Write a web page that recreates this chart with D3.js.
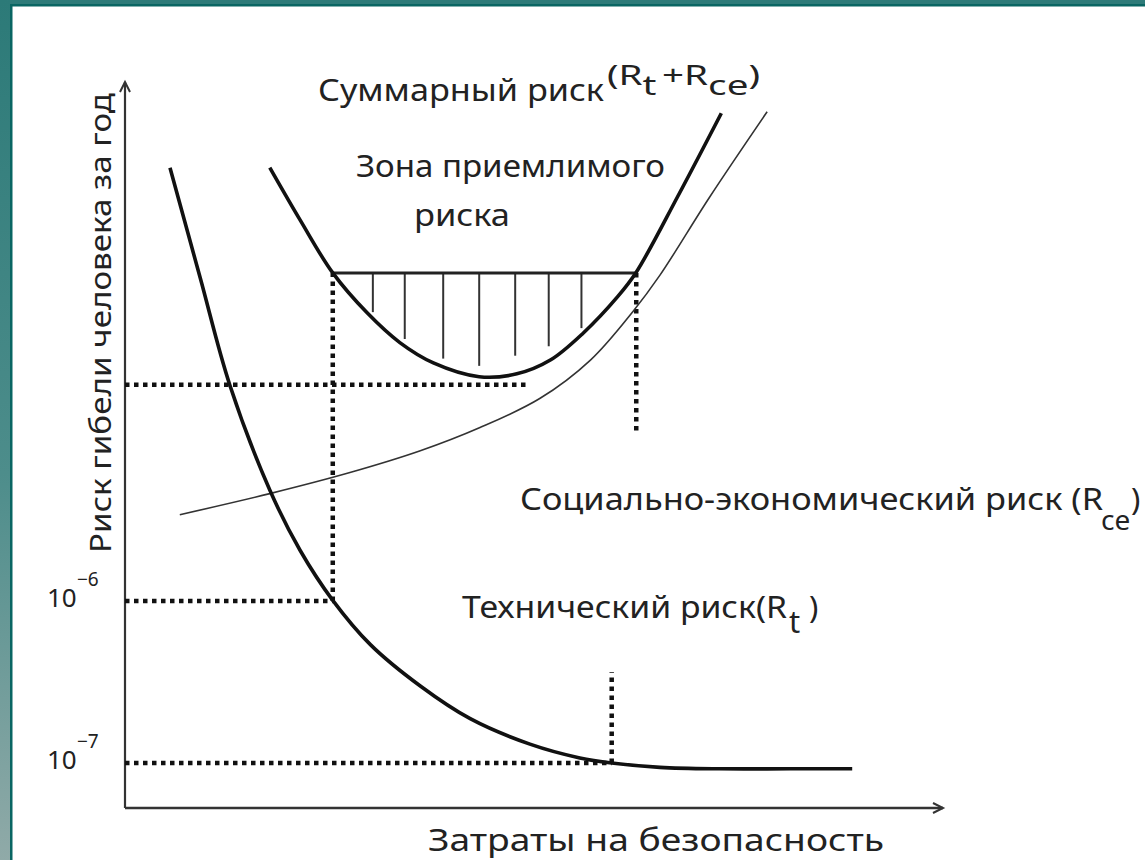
<!DOCTYPE html>
<html>
<head>
<meta charset="utf-8">
<script src="https://cdn.jsdelivr.net/npm/d3@7"></script>
<style>
  body { margin: 0; background: #fff; }
  svg { display: block; }
  text { font-family: "Noto Sans", "DejaVu Sans", sans-serif; fill: #222; }
</style>
</head>
<body>
<div id="chart"></div>
<script>
// values, in chart units (x: costs 0..100, y: risk 0..100)
var techRiskX  = [5.5, 9.2, 12.8, 17.7, 21.4, 25.4, 30.0, 36.1, 42.2, 49.5, 55.6, 59.5, 65.4, 72.7, 81.3, 88.9];
var techRiskY  = [88.2, 73.0, 58.3, 43.8, 35.5, 28.6, 22.5, 16.8, 12.3, 8.8, 6.9, 6.2, 5.6, 5.4, 5.4, 5.4];

var totalRiskX = [17.7, 21.4, 25.4, 29.6, 33.6, 37.7, 43.3, 47.9, 52.0, 56.0, 60.2, 62.5, 67.6, 72.9];
var totalRiskY = [88.2, 81.0, 73.7, 68.2, 64.1, 61.3, 59.4, 59.8, 61.7, 65.4, 70.4, 73.8, 84.3, 95.7];

var socRiskX   = [6.7, 17.7, 27.5, 36.1, 43.4, 50.7, 56.9, 62.1, 65.4, 71.5, 78.5];
var socRiskY   = [40.4, 43.3, 46.2, 49.2, 52.4, 56.4, 61.7, 68.4, 73.4, 84.2, 95.9];

// acceptable risk zone: upper bound and hatch strokes
var zoneTop     = 73.7;
var zoneFrom    = 25.4;
var zoneTo      = 62.5;
var hatchX      = [30.3, 34.2, 38.9, 43.3, 47.7, 51.8, 55.8];
var hatchBottom = [68.3, 64.6, 61.9, 60.9, 62.3, 63.6, 66.1];

// dotted guide lines [x1, y1, x2, y2]
var guides = [
  [0, 28.5, 25.4, 28.5],     // 10^-6 level
  [25.4, 28.5, 25.4, 73.7],
  [0, 6.2, 59.5, 6.2],       // 10^-7 level
  [59.5, 6.2, 59.5, 18.7],
  [0, 58.3, 49.5, 58.3],     // minimum of total risk
  [62.5, 73.7, 62.5, 51.4]
];

var tickLevels = [28.5, 6.2];
var tickBase   = ["10", "10"];
var tickExp    = ["−6", "−7"];

var width = 1145, height = 860;

var svg = d3.select("#chart").append("svg")
    .attr("width", width)
    .attr("height", height);

// slide frame
var defs = svg.append("defs");
var grad = defs.append("linearGradient")
    .attr("id", "sideGrad")
    .attr("x1", 0).attr("y1", 0).attr("x2", 0).attr("y2", 1);
grad.append("stop").attr("offset", "0%").attr("stop-color", "#2c7a78");
grad.append("stop").attr("offset", "55%").attr("stop-color", "#4d8d8b");
grad.append("stop").attr("offset", "100%").attr("stop-color", "#90aaa8");

svg.append("rect").attr("x", 0).attr("y", 0).attr("width", width).attr("height", height).attr("fill", "#fff");
svg.append("rect").attr("x", 0).attr("y", 0).attr("width", width).attr("height", 4).attr("fill", "#2e7b79");
svg.append("rect").attr("x", 10).attr("y", 4).attr("width", width - 10).attr("height", 2.5).attr("fill", "#0a6663");
svg.append("rect").attr("x", 0).attr("y", 0).attr("width", 10).attr("height", height).attr("fill", "url(#sideGrad)");
svg.append("rect").attr("x", 10).attr("y", 4).attr("width", 2.5).attr("height", height - 4).attr("fill", "#0a6663");

var xScale = d3.scaleLinear().domain([0, 100]).range([125, 943]);
var yScale = d3.scaleLinear().domain([0, 100]).range([808, 82]);

var g = svg.append("g");

// axes with open arrow heads
var axisColor = "#333";
g.append("line")
    .attr("x1", xScale(0)).attr("y1", yScale(0))
    .attr("x2", xScale(0)).attr("y2", yScale(100))
    .attr("stroke", axisColor).attr("stroke-width", 2.2);
g.append("line")
    .attr("x1", xScale(0)).attr("y1", yScale(0))
    .attr("x2", xScale(100)).attr("y2", yScale(0))
    .attr("stroke", axisColor).attr("stroke-width", 2.5);
g.append("path")
    .attr("d", "M" + (xScale(0) - 5) + "," + (yScale(100) + 10) + "L" + xScale(0) + "," + yScale(100) + "L" + (xScale(0) + 5) + "," + (yScale(100) + 10))
    .attr("fill", "none").attr("stroke", axisColor).attr("stroke-width", 2);
g.append("path")
    .attr("d", "M" + (xScale(100) - 10) + "," + (yScale(0) - 5) + "L" + xScale(100) + "," + yScale(0) + "L" + (xScale(100) - 10) + "," + (yScale(0) + 5))
    .attr("fill", "none").attr("stroke", axisColor).attr("stroke-width", 2);

// dotted guides
g.selectAll(".guide")
    .data(guides)
    .enter().append("line")
    .attr("class", "guide")
    .attr("x1", function (d) { return xScale(d[0]); })
    .attr("y1", function (d) { return yScale(d[1]); })
    .attr("x2", function (d) { return xScale(d[2]); })
    .attr("y2", function (d) { return yScale(d[3]); })
    .attr("stroke", "#111")
    .attr("stroke-width", 4.5)
    .style("stroke-dasharray", ("4.5, 4.5"));

// hatch of the acceptable zone
g.selectAll(".hatch")
    .data(hatchX)
    .enter().append("line")
    .attr("class", "hatch")
    .attr("x1", function (d) { return xScale(d); })
    .attr("x2", function (d) { return xScale(d); })
    .attr("y1", yScale(zoneTop))
    .attr("y2", function (d, i) { return yScale(hatchBottom[i]); })
    .attr("stroke", "#333")
    .attr("stroke-width", 2);

g.append("line")
    .attr("x1", xScale(zoneFrom)).attr("x2", xScale(zoneTo))
    .attr("y1", yScale(zoneTop)).attr("y2", yScale(zoneTop))
    .attr("stroke", "#222").attr("stroke-width", 3);

function pts(xs, ys) {
  return xs.map(function (x, i) { return [x, ys[i]]; });
}

var lineCR = d3.line()
    .x(function (d) { return xScale(d[0]); })
    .y(function (d) { return yScale(d[1]); })
    .curve(d3.curveCatmullRom.alpha(0.5));

g.append("path")
    .attr("d", lineCR(pts(socRiskX, socRiskY)))
    .attr("fill", "none").attr("stroke", "#333").attr("stroke-width", 1.6);

g.append("path")
    .attr("d", lineCR(pts(techRiskX, techRiskY)))
    .attr("fill", "none").attr("stroke", "#111").attr("stroke-width", 3.6);

g.append("path")
    .attr("d", lineCR(pts(totalRiskX, totalRiskY)))
    .attr("fill", "none").attr("stroke", "#111").attr("stroke-width", 3.6);

// tick labels 10^-6, 10^-7
var ticks = g.selectAll(".tick")
    .data(tickLevels)
    .enter().append("g")
    .attr("class", "tick");
ticks.append("text")
    .attr("x", xScale(0) - 78)
    .attr("y", function (d) { return yScale(d) + 6; })
    .attr("font-size", 26)
    .text(function (d, i) { return tickBase[i]; });
ticks.append("text")
    .attr("x", xScale(0) - 48)
    .attr("y", function (d) { return yScale(d) - 15; })
    .attr("font-size", 19)
    .text(function (d, i) { return tickExp[i]; });

// labels
g.append("text")
    .attr("x", 318).attr("y", 101)
    .attr("font-size", 31)
    .attr("textLength", 286).attr("lengthAdjust", "spacingAndGlyphs")
    .text("Суммарный риск");

var sum = g.append("text")
    .attr("x", 607).attr("y", 85)
    .attr("font-size", 28)
    .attr("textLength", 153).attr("lengthAdjust", "spacingAndGlyphs");
sum.append("tspan").text("(R");
sum.append("tspan").attr("dy", 10).text("t");
sum.append("tspan").attr("dy", -10).attr("dx", 4).text("+R");
sum.append("tspan").attr("dy", 10).text("ce");
sum.append("tspan").attr("dy", -10).text(")");

g.append("text")
    .attr("x", 356).attr("y", 177)
    .attr("font-size", 31)
    .attr("textLength", 309).attr("lengthAdjust", "spacingAndGlyphs")
    .text("Зона приемлимого");
g.append("text")
    .attr("x", 414).attr("y", 226)
    .attr("font-size", 31)
    .attr("textLength", 96).attr("lengthAdjust", "spacingAndGlyphs")
    .text("риска");

g.append("text")
    .attr("x", 520).attr("y", 510)
    .attr("font-size", 31)
    .attr("textLength", 583).attr("lengthAdjust", "spacingAndGlyphs")
    .text("Социально-экономический риск (R");
g.append("text")
    .attr("x", 1101).attr("y", 530)
    .attr("font-size", 28)
    .text("ce");
g.append("text")
    .attr("x", 1131).attr("y", 510)
    .attr("font-size", 31)
    .text(")");

g.append("text")
    .attr("x", 462).attr("y", 618)
    .attr("font-size", 31)
    .attr("textLength", 325).attr("lengthAdjust", "spacingAndGlyphs")
    .text("Технический риск(R");
g.append("text")
    .attr("x", 789).attr("y", 633)
    .attr("font-size", 31)
    .text("t");
g.append("text")
    .attr("x", 809).attr("y", 618)
    .attr("font-size", 31)
    .text(")");

g.append("text")
    .attr("x", 428).attr("y", 851)
    .attr("font-size", 31)
    .attr("textLength", 456).attr("lengthAdjust", "spacingAndGlyphs")
    .text("Затраты на безопасность");

g.append("text")
    .attr("transform", "translate(111,553) rotate(-90)")
    .attr("font-size", 29)
    .attr("textLength", 460).attr("lengthAdjust", "spacingAndGlyphs")
    .text("Риск гибели человека за год");
</script>
</body>
</html>
